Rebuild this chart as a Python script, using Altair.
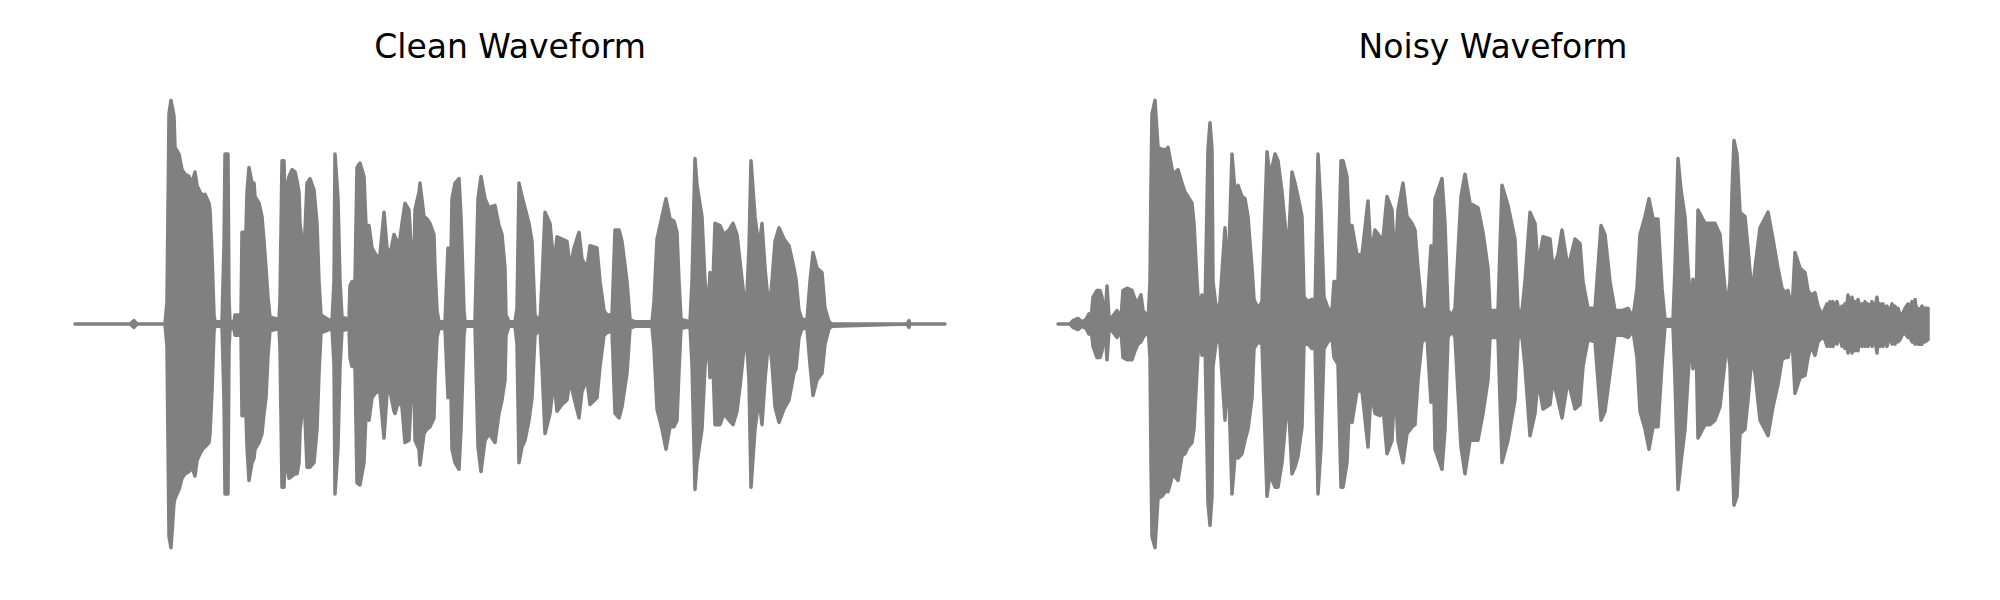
import altair as alt
import pandas as pd

# Envelope of each waveform: (time s, upper amplitude, lower amplitude)
clean_env = [
    (0.00, 0.0, 0.0), (0.55, 0.0, 0.0), (0.59, 0.015, -0.015), (0.62, 0.0, 0.0),
    (0.90, 0.0, 0.0), (0.92, 0.10, -0.10), (0.94, 0.94, -0.95), (0.96, 1.00, -1.00),
    (0.99, 0.93, -0.80), (1.00, 0.79, -0.78), (1.04, 0.76, -0.74), (1.07, 0.69, -0.69),
    (1.10, 0.67, -0.67), (1.14, 0.66, -0.66), (1.17, 0.63, -0.64), (1.20, 0.68, -0.68),
    (1.22, 0.62, -0.61), (1.25, 0.59, -0.58), (1.29, 0.57, -0.55), (1.30, 0.58, -0.55),
    (1.34, 0.54, -0.53), (1.35, 0.51, -0.49), (1.37, 0.31, -0.30), (1.39, 0.04, -0.03),
    (1.40, 0.01, -0.01), (1.47, 0.01, -0.01), (1.49, 0.35, -0.34), (1.50, 0.76, -0.76),
    (1.53, 0.76, -0.76), (1.54, 0.11, -0.11), (1.55, 0.01, -0.02), (1.59, 0.01, -0.02),
    (1.60, 0.04, -0.05), (1.66, 0.04, -0.05), (1.67, 0.41, -0.41), (1.69, 0.41, -0.41),
    (1.70, 0.25, -0.25), (1.72, 0.59, -0.55), (1.74, 0.70, -0.70), (1.77, 0.63, -0.62),
    (1.79, 0.63, -0.60), (1.80, 0.57, -0.56), (1.84, 0.54, -0.53), (1.87, 0.48, -0.49),
    (1.89, 0.37, -0.40), (1.91, 0.25, -0.33), (1.93, 0.12, -0.14), (1.95, 0.03, -0.03),
    (2.04, 0.02, -0.02), (2.05, 0.11, -0.11), (2.07, 0.73, -0.73), (2.09, 0.73, -0.73),
    (2.10, 0.56, -0.59), (2.14, 0.66, -0.69), (2.17, 0.69, -0.68), (2.20, 0.68, -0.67),
    (2.22, 0.64, -0.67), (2.24, 0.59, -0.62), (2.25, 0.45, -0.48), (2.29, 0.31, -0.31),
    (2.32, 0.63, -0.64), (2.35, 0.65, -0.64), (2.39, 0.60, -0.62), (2.42, 0.45, -0.47),
    (2.44, 0.19, -0.22), (2.46, 0.04, -0.04), (2.57, 0.01, -0.02), (2.59, 0.19, -0.18),
    (2.60, 0.76, -0.76), (2.63, 0.56, -0.55), (2.65, 0.19, -0.19), (2.67, 0.03, -0.03),
    (2.74, 0.02, -0.02), (2.75, 0.17, -0.15), (2.77, 0.19, -0.19), (2.80, 0.19, -0.19),
    (2.82, 0.70, -0.71), (2.85, 0.72, -0.72), (2.89, 0.66, -0.62), (2.91, 0.44, -0.40),
    (2.94, 0.44, -0.43), (2.97, 0.34, -0.33), (3.02, 0.30, -0.30), (3.05, 0.31, -0.31),
    (3.09, 0.50, -0.51), (3.12, 0.34, -0.31), (3.15, 0.31, -0.30), (3.19, 0.40, -0.39),
    (3.20, 0.39, -0.40), (3.24, 0.35, -0.34), (3.27, 0.45, -0.37), (3.30, 0.54, -0.53),
    (3.34, 0.51, -0.52), (3.37, 0.28, -0.25), (3.39, 0.26, -0.25), (3.40, 0.51, -0.52),
    (3.44, 0.59, -0.56), (3.45, 0.63, -0.63), (3.49, 0.48, -0.49), (3.52, 0.47, -0.47),
    (3.55, 0.45, -0.46), (3.59, 0.40, -0.42), (3.60, 0.25, -0.25), (3.62, 0.06, -0.06),
    (3.64, 0.01, -0.02), (3.70, 0.01, -0.02), (3.73, 0.34, -0.33), (3.75, 0.04, -0.08),
    (3.77, 0.56, -0.56), (3.80, 0.63, -0.62), (3.84, 0.65, -0.65), (3.86, 0.48, -0.47),
    (3.89, 0.06, -0.05), (3.90, 0.01, -0.01), (4.00, 0.01, -0.01), (4.03, 0.56, -0.55),
    (4.06, 0.66, -0.66), (4.10, 0.56, -0.52), (4.14, 0.52, -0.49), (4.20, 0.53, -0.53),
    (4.24, 0.44, -0.40), (4.27, 0.40, -0.34), (4.30, 0.25, -0.25), (4.31, 0.04, -0.05),
    (4.34, 0.01, -0.01), (4.40, 0.01, -0.01), (4.42, 0.07, -0.09), (4.44, 0.63, -0.62),
    (4.47, 0.57, -0.55), (4.50, 0.52, -0.52), (4.54, 0.45, -0.43), (4.57, 0.37, -0.33),
    (4.60, 0.04, -0.05), (4.65, 0.01, -0.02), (4.67, 0.19, -0.19), (4.70, 0.50, -0.49),
    (4.75, 0.45, -0.40), (4.79, 0.26, -0.25), (4.82, 0.39, -0.39), (4.87, 0.38, -0.36),
    (4.92, 0.37, -0.34), (4.95, 0.25, -0.25), (4.99, 0.34, -0.33), (5.04, 0.41, -0.42),
    (5.07, 0.29, -0.30), (5.12, 0.25, -0.25), (5.15, 0.35, -0.36), (5.22, 0.34, -0.33),
    (5.25, 0.19, -0.19), (5.29, 0.06, -0.05), (5.32, 0.04, -0.04), (5.37, 0.04, -0.03),
    (5.40, 0.42, -0.40), (5.44, 0.42, -0.42), (5.47, 0.37, -0.37), (5.52, 0.19, -0.22),
    (5.55, 0.02, -0.02), (5.60, 0.01, -0.01), (5.77, 0.01, -0.01), (5.79, 0.10, -0.11),
    (5.82, 0.38, -0.38), (5.87, 0.48, -0.47), (5.91, 0.56, -0.56), (5.95, 0.47, -0.46),
    (5.99, 0.46, -0.46), (6.02, 0.41, -0.43), (6.04, 0.19, -0.21), (6.06, 0.02, -0.02),
    (6.15, 0.01, -0.01), (6.17, 0.19, -0.18), (6.20, 0.74, -0.74), (6.22, 0.62, -0.62),
    (6.27, 0.48, -0.47), (6.30, 0.19, -0.19), (6.33, 0.06, -0.05), (6.35, 0.23, -0.24),
    (6.37, 0.06, -0.05), (6.40, 0.45, -0.45), (6.45, 0.44, -0.45), (6.49, 0.40, -0.40),
    (6.54, 0.42, -0.43), (6.58, 0.45, -0.45), (6.62, 0.40, -0.39), (6.65, 0.28, -0.28),
    (6.69, 0.12, -0.11), (6.71, 0.04, -0.03), (6.74, 0.34, -0.25), (6.76, 0.73, -0.73),
    (6.80, 0.48, -0.47), (6.84, 0.34, -0.33), (6.87, 0.45, -0.45), (6.90, 0.25, -0.25),
    (6.94, 0.06, -0.05), (6.97, 0.19, -0.18), (7.00, 0.37, -0.37), (7.04, 0.43, -0.44),
    (7.09, 0.38, -0.38), (7.14, 0.35, -0.34), (7.19, 0.25, -0.22), (7.21, 0.20, -0.20),
    (7.24, 0.06, -0.06), (7.27, 0.02, -0.02), (7.32, 0.02, -0.02), (7.35, 0.19, -0.18),
    (7.38, 0.32, -0.32), (7.42, 0.25, -0.25), (7.47, 0.23, -0.22), (7.50, 0.07, -0.09),
    (7.54, 0.01, -0.02), (7.57, 0.0, -0.01), (8.32, 0.0, 0.0), (8.34, 0.015, -0.015),
    (8.35, 0.0, 0.0), (8.70, 0.0, 0.0),
]

noisy_env = [
    (0.00, 0.0, 0.0), (0.12, 0.0, 0.0), (0.15, 0.015, -0.015), (0.20, 0.025, -0.025),
    (0.24, 0.01, -0.01), (0.28, 0.02, -0.02), (0.31, 0.045, -0.045), (0.33, 0.02, -0.02),
    (0.35, 0.12, -0.10), (0.39, 0.15, -0.15), (0.42, 0.15, -0.15), (0.44, 0.12, -0.12),
    (0.47, 0.02, -0.02), (0.49, 0.17, -0.16), (0.51, 0.03, -0.03), (0.54, 0.03, -0.03),
    (0.59, 0.06, -0.06), (0.63, 0.03, -0.03), (0.65, 0.15, -0.15), (0.69, 0.16, -0.16),
    (0.74, 0.15, -0.16), (0.77, 0.11, -0.12), (0.80, 0.10, -0.09), (0.83, 0.13, -0.08),
    (0.85, 0.06, -0.06), (0.89, 0.04, -0.04), (0.90, 0.01, -0.01), (0.92, 0.19, -0.15),
    (0.93, 0.63, -0.62), (0.94, 0.94, -0.95), (0.97, 1.00, -1.00),
    (1.00, 0.79, -0.78), (1.04, 0.78, -0.77), (1.09, 0.78, -0.74), (1.10, 0.79, -0.75),
    (1.15, 0.67, -0.67), (1.20, 0.69, -0.70), (1.24, 0.63, -0.59), (1.27, 0.59, -0.58),
    (1.30, 0.57, -0.55), (1.34, 0.54, -0.53), (1.36, 0.45, -0.47), (1.39, 0.19, -0.21),
    (1.41, 0.06, -0.05), (1.44, 0.13, -0.14), (1.47, 0.06, -0.08), (1.50, 0.78, -0.80),
    (1.52, 0.90, -0.90), (1.54, 0.78, -0.77), (1.55, 0.19, -0.19), (1.59, 0.04, -0.05),
    (1.62, 0.10, -0.09), (1.67, 0.43, -0.43), (1.70, 0.19, -0.18), (1.74, 0.76, -0.76),
    (1.77, 0.59, -0.59), (1.80, 0.62, -0.60), (1.84, 0.57, -0.58), (1.87, 0.56, -0.52),
    (1.90, 0.48, -0.47), (1.94, 0.25, -0.33), (1.96, 0.11, -0.11), (2.00, 0.07, -0.08),
    (2.04, 0.10, -0.09), (2.09, 0.77, -0.77), (2.12, 0.66, -0.67), (2.17, 0.76, -0.73),
    (2.20, 0.73, -0.73), (2.24, 0.59, -0.62), (2.27, 0.45, -0.47), (2.30, 0.31, -0.31),
    (2.34, 0.68, -0.67), (2.37, 0.63, -0.64), (2.40, 0.57, -0.59), (2.44, 0.48, -0.46),
    (2.46, 0.12, -0.09), (2.50, 0.10, -0.09), (2.54, 0.11, -0.11), (2.57, 0.07, -0.09),
    (2.60, 0.76, -0.76), (2.63, 0.51, -0.55), (2.66, 0.12, -0.11), (2.70, 0.07, -0.08),
    (2.74, 0.06, -0.06), (2.76, 0.19, -0.15), (2.80, 0.19, -0.18), (2.83, 0.73, -0.73),
    (2.85, 0.73, -0.73), (2.89, 0.66, -0.62), (2.91, 0.44, -0.40), (2.94, 0.44, -0.44),
    (2.99, 0.31, -0.30), (3.04, 0.31, -0.30), (3.10, 0.55, -0.55), (3.13, 0.31, -0.30),
    (3.17, 0.42, -0.40), (3.22, 0.39, -0.41), (3.25, 0.38, -0.37), (3.29, 0.57, -0.58),
    (3.34, 0.51, -0.52), (3.37, 0.26, -0.25), (3.40, 0.51, -0.52), (3.45, 0.63, -0.62),
    (3.49, 0.48, -0.49), (3.54, 0.45, -0.46), (3.57, 0.42, -0.45), (3.60, 0.25, -0.25),
    (3.64, 0.07, -0.08), (3.69, 0.06, -0.06), (3.73, 0.35, -0.35), (3.75, 0.06, -0.08),
    (3.77, 0.56, -0.56), (3.84, 0.65, -0.65), (3.87, 0.45, -0.47), (3.90, 0.06, -0.06),
    (3.94, 0.04, -0.03), (3.97, 0.07, -0.06), (4.03, 0.57, -0.55), (4.07, 0.67, -0.67),
    (4.12, 0.54, -0.52), (4.20, 0.52, -0.52), (4.25, 0.41, -0.40), (4.30, 0.25, -0.25),
    (4.32, 0.06, -0.06), (4.35, 0.06, -0.06), (4.40, 0.06, -0.06), (4.44, 0.62, -0.62),
    (4.50, 0.53, -0.52), (4.57, 0.38, -0.34), (4.60, 0.06, -0.06), (4.64, 0.06, -0.06),
    (4.67, 0.19, -0.19), (4.72, 0.50, -0.50), (4.77, 0.45, -0.40), (4.80, 0.26, -0.25),
    (4.85, 0.39, -0.38), (4.92, 0.38, -0.36), (4.95, 0.25, -0.25), (5.00, 0.31, -0.34),
    (5.04, 0.42, -0.42), (5.10, 0.25, -0.25), (5.17, 0.38, -0.38), (5.22, 0.36, -0.36),
    (5.25, 0.19, -0.19), (5.30, 0.07, -0.07), (5.37, 0.07, -0.08), (5.43, 0.44, -0.43),
    (5.47, 0.40, -0.39), (5.52, 0.19, -0.22), (5.57, 0.06, -0.05), (5.64, 0.06, -0.05),
    (5.70, 0.07, -0.06), (5.75, 0.03, -0.03), (5.79, 0.16, -0.15), (5.82, 0.40, -0.39),
    (5.87, 0.48, -0.47), (5.91, 0.56, -0.56), (5.95, 0.47, -0.46), (6.00, 0.47, -0.46),
    (6.04, 0.16, -0.18), (6.07, 0.02, -0.01), (6.15, 0.02, -0.01), (6.17, 0.25, -0.25),
    (6.20, 0.74, -0.74), (6.23, 0.60, -0.62), (6.27, 0.48, -0.47), (6.30, 0.25, -0.24),
    (6.33, 0.07, -0.06), (6.35, 0.20, -0.20), (6.38, 0.07, -0.06), (6.40, 0.51, -0.51),
    (6.47, 0.45, -0.45), (6.52, 0.45, -0.45), (6.57, 0.45, -0.43), (6.62, 0.40, -0.37),
    (6.65, 0.25, -0.25), (6.69, 0.07, -0.08), (6.72, 0.19, -0.19), (6.74, 0.59, -0.56),
    (6.76, 0.82, -0.81), (6.79, 0.76, -0.77), (6.82, 0.50, -0.49), (6.87, 0.48, -0.47),
    (6.90, 0.34, -0.34), (6.94, 0.13, -0.14), (6.97, 0.25, -0.22), (7.02, 0.43, -0.43),
    (7.10, 0.50, -0.50), (7.15, 0.38, -0.37), (7.20, 0.25, -0.27), (7.24, 0.16, -0.16),
    (7.27, 0.14, -0.15), (7.30, 0.15, -0.15), (7.34, 0.06, -0.06), (7.37, 0.32, -0.31),
    (7.42, 0.25, -0.24), (7.47, 0.23, -0.23), (7.50, 0.15, -0.15), (7.53, 0.13, -0.10),
    (7.57, 0.14, -0.14), (7.60, 0.08, -0.08), (7.64, 0.04, -0.06), (7.67, 0.07, -0.07),
    (7.69, 0.09, -0.10), (7.705, 0.06, -0.06), (7.72, 0.10, -0.10), (7.735, 0.06, -0.06),
    (7.75, 0.10, -0.10), (7.77, 0.06, -0.06), (7.79, 0.10, -0.09), (7.815, 0.05, -0.05),
    (7.84, 0.08, -0.10), (7.855, 0.05, -0.05), (7.87, 0.09, -0.11), (7.885, 0.06, -0.06),
    (7.90, 0.13, -0.13), (7.92, 0.07, -0.07), (7.94, 0.12, -0.13), (7.955, 0.06, -0.06),
    (7.97, 0.10, -0.12), (7.985, 0.06, -0.06), (8.00, 0.11, -0.12), (8.02, 0.06, -0.06),
    (8.04, 0.09, -0.10), (8.055, 0.05, -0.05), (8.07, 0.10, -0.10), (8.085, 0.06, -0.06),
    (8.10, 0.09, -0.10), (8.12, 0.06, -0.06), (8.14, 0.10, -0.10), (8.165, 0.06, -0.06),
    (8.19, 0.12, -0.13), (8.205, 0.06, -0.06), (8.22, 0.09, -0.10), (8.235, 0.05, -0.05),
    (8.25, 0.09, -0.10), (8.27, 0.05, -0.05), (8.29, 0.08, -0.10), (8.315, 0.05, -0.05),
    (8.34, 0.09, -0.09), (8.355, 0.05, -0.05), (8.37, 0.08, -0.09), (8.385, 0.05, -0.05),
    (8.40, 0.07, -0.08), (8.42, 0.04, -0.07), (8.44, 0.04, -0.05), (8.47, 0.07, -0.04),
    (8.50, 0.09, -0.06), (8.52, 0.06, -0.06), (8.54, 0.10, -0.08), (8.555, 0.06, -0.06),
    (8.57, 0.11, -0.09), (8.585, 0.06, -0.06), (8.60, 0.07, -0.09), (8.62, 0.06, -0.09),
    (8.64, 0.08, -0.09), (8.655, 0.06, -0.06), (8.67, 0.07, -0.08), (8.70, 0.07, -0.07),
]

titles = ["Clean Waveform", "Noisy Waveform"]
WAVE_COLOR = "#808080"


def panel(env, title):
    df = pd.DataFrame(env, columns=["t", "top", "bot"])
    return (
        alt.Chart(df)
        .mark_area(
            color=WAVE_COLOR, stroke=WAVE_COLOR, strokeWidth=3.5,
            strokeJoin="round", strokeCap="round", opacity=1,
        )
        .encode(
            x=alt.X("t:Q", axis=None, scale=alt.Scale(domain=[0, 8.7], nice=False, zero=False)),
            y=alt.Y("top:Q", axis=None, scale=alt.Scale(domain=[-1.1, 1.1], nice=False)),
            y2="bot:Q",
        )
        .properties(
            width=870, height=492,
            title=alt.TitleParams(
                title, fontSize=33, font="DejaVu Sans", fontWeight="normal",
                color="black", offset=13,
            ),
        )
    )


chart = (
    alt.hconcat(panel(clean_env, titles[0]), panel(noisy_env, titles[1]), spacing=109)
    .properties(padding={"left": 65, "top": 24, "right": 0, "bottom": 0}, background="white")
    .configure_view(stroke=None)
)

chart.save("out.html", embed_options={"renderer": "svg", "actions": False})
